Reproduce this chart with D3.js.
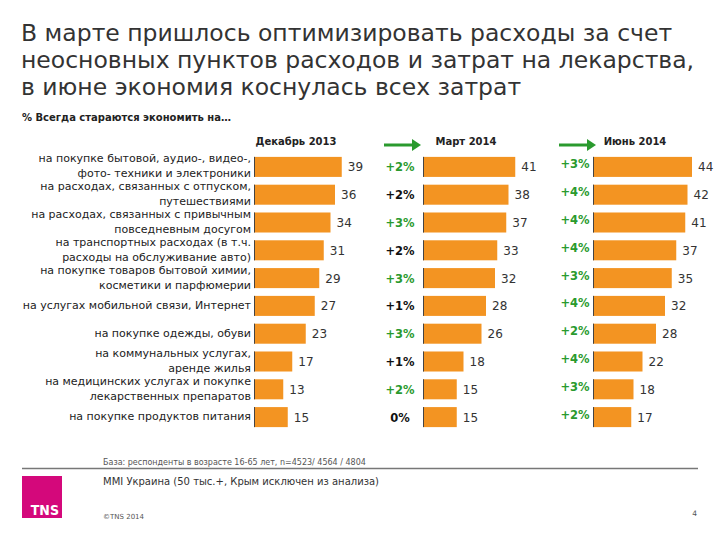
<!DOCTYPE html>
<html><head><meta charset="utf-8">
<script src="https://cdn.jsdelivr.net/npm/d3@7"></script>
<style>body{margin:0;background:#fff}svg{display:block}</style>
</head><body><svg id="c" width="720" height="540"></svg>
<script>
const titleLines = ["В марте пришлось оптимизировать расходы за счет","неосновных пунктов расходов и затрат на лекарства,","в июне экономия коснулась всех затрат"];
const subtitle = "% Всегда стараются экономить на…";
const categories = [
  "на покупке бытовой, аудио-, видео-,\nфото- техники и электроники",
  "на расходах, связанных с отпуском,\nпутешествиями",
  "на расходах, связанных с привычным\nповседневным досугом",
  "на транспортных расходах (в т.ч.\nрасходы на обслуживание авто)",
  "на покупке товаров бытовой химии,\nкосметики и парфюмерии",
  "на услугах мобильной связи, Интернет",
  "на покупке одежды, обуви",
  "на коммунальных услугах,\nаренде жилья",
  "на медицинских услугах и покупке\nлекарственных препаратов",
  "на покупке продуктов питания"
];
const periods = ["Декабрь 2013","Март 2014","Июнь 2014"];
const dec2013 = [39,36,34,31,29,27,23,17,13,15];
const mar2014 = [41,38,37,33,32,28,26,18,15,15];
const jun2014 = [44,42,41,37,35,32,28,22,18,17];
const marChange = ["+2%","+2%","+3%","+2%","+3%","+1%","+3%","+1%","+2%","0%"];
const marChangeGreen = [true,false,true,false,true,false,true,false,true,false];
const junChange = ["+3%","+4%","+4%","+4%","+3%","+4%","+2%","+4%","+3%","+2%"];
const junChangeGreen = [true,true,true,true,true,true,true,true,true,true];
const baseNote = "База: респонденты в возрасте 16-65  лет, n=4523/ 4564 / 4804";
const sourceNote = "MMI Украина (50 тыс.+, Крым исключен из анализа)";
const copyright = "©TNS 2014";
const pageNo = "4";

const svg = d3.select("#c");
const F = "'DejaVu Sans', Verdana, sans-serif";
const ORANGE = "#F39422", GREEN = "#2A9A2E", TXT = "#222";

// title
svg.append("g").selectAll("text").data(titleLines).join("text")
  .attr("x", 21).attr("y", (d,i)=>41 + i*27)
  .attr("font-family", F).attr("font-size", 23.5).attr("fill", "#333")
  .text(d=>d);

svg.append("text").attr("x", 22).attr("y", 121)
  .attr("font-family", F).attr("font-size", 10).attr("font-weight", "bold").attr("fill", "#222")
  .text(subtitle);

const y = d3.scaleBand().domain(d3.range(categories.length)).range([153, 431]).paddingInner(0.28).paddingOuter(0.14);
const x = d3.scaleLinear().domain([0, 44]).range([0, 99]);

const panels = [
  {x0:254, data:dec2013, header:periods[0], hx:296},
  {x0:423, data:mar2014, header:periods[1], hx:466, change:marChange, green:marChangeGreen, cx:400, dy:0},
  {x0:593, data:jun2014, header:periods[2], hx:635, change:junChange, green:junChangeGreen, cx:575, dy:-3}
];

// category labels
const lab = svg.append("g");
categories.forEach((c,i)=>{
  const lines = c.split("\n");
  const cy = y(i) + y.bandwidth()/2;
  lines.forEach((l,j)=>{
    lab.append("text").attr("x", 251).attr("y", cy + (j - (lines.length-1)/2)*15 + 3)
      .attr("text-anchor","end").attr("font-family", F).attr("font-size", 11).attr("fill", TXT).text(l);
  });
});

panels.forEach(p=>{
  const g = svg.append("g").attr("transform", `translate(${p.x0},0)`);
  g.selectAll("rect").data(p.data).join("rect")
    .attr("x", 0).attr("y", (d,i)=>y(i)).attr("width", d=>x(d)).attr("height", y.bandwidth())
    .attr("fill", ORANGE);
  g.selectAll("line.edge").data(p.data).join("line").attr("class","edge")
    .attr("x1", 0.5).attr("x2", 0.5).attr("y1", (d,i)=>y(i)).attr("y2", (d,i)=>y(i)+y.bandwidth())
    .attr("stroke", "#444").attr("stroke-width", 1);
  g.selectAll("text.val").data(p.data).join("text").attr("class","val")
    .attr("x", d=>x(d)+6).attr("y", (d,i)=>y(i)+y.bandwidth()/2+4.5)
    .attr("font-family", F).attr("font-size", 12).attr("fill", "#333").text(d=>d);
  svg.append("text").attr("x", p.hx).attr("y", 145).attr("text-anchor","middle")
    .attr("font-family", F).attr("font-size", 10).attr("font-weight","bold").attr("fill","#222").text(p.header);
  if (p.change) {
    svg.append("g").selectAll("text").data(p.change).join("text")
      .attr("x", p.cx).attr("y", (d,i)=>y(i)+y.bandwidth()/2+4.5+p.dy).attr("text-anchor","middle")
      .attr("font-family", F).attr("font-size", 11.5).attr("font-weight","bold")
      .attr("fill", (d,i)=>p.green[i] ? GREEN : "#111").text(d=>d);
    // arrow
    const ax = p.cx - 16, ay = 145;
    svg.append("line").attr("x1", ax).attr("x2", ax+30).attr("y1", ay).attr("y2", ay)
      .attr("stroke", GREEN).attr("stroke-width", 3);
    svg.append("path").attr("d", `M${ax+28},${ay-6}L${ax+37},${ay}L${ax+28},${ay+6}Z`).attr("fill", GREEN);
  }
});

// footer
svg.append("text").attr("x", 103).attr("y", 465).attr("font-family", F).attr("font-size", 8).attr("fill","#555").text(baseNote);
svg.append("line").attr("x1", 22).attr("x2", 698).attr("y1", 468.5).attr("y2", 468.5).attr("stroke","#777").attr("stroke-width",1.5);
svg.append("text").attr("x", 103).attr("y", 485).attr("font-family", F).attr("font-size", 10).attr("fill","#333").text(sourceNote);
svg.append("text").attr("x", 103).attr("y", 519).attr("font-family", F).attr("font-size", 7).attr("fill","#555").text(copyright);
svg.append("text").attr("x", 697).attr("y", 516).attr("text-anchor","end").attr("font-family", F).attr("font-size", 7.5).attr("fill","#555").text(pageNo);
svg.append("rect").attr("x", 22).attr("y", 476).attr("width", 40).attr("height", 42).attr("fill", "#D4087B");
svg.append("text").attr("x", 59).attr("y", 515).attr("text-anchor","end").attr("font-family","'Liberation Sans Narrow','DejaVu Sans Condensed',sans-serif")
  .attr("font-size", 14).attr("font-weight","bold").attr("fill","#fff").text("TNS");
</script></body></html>
